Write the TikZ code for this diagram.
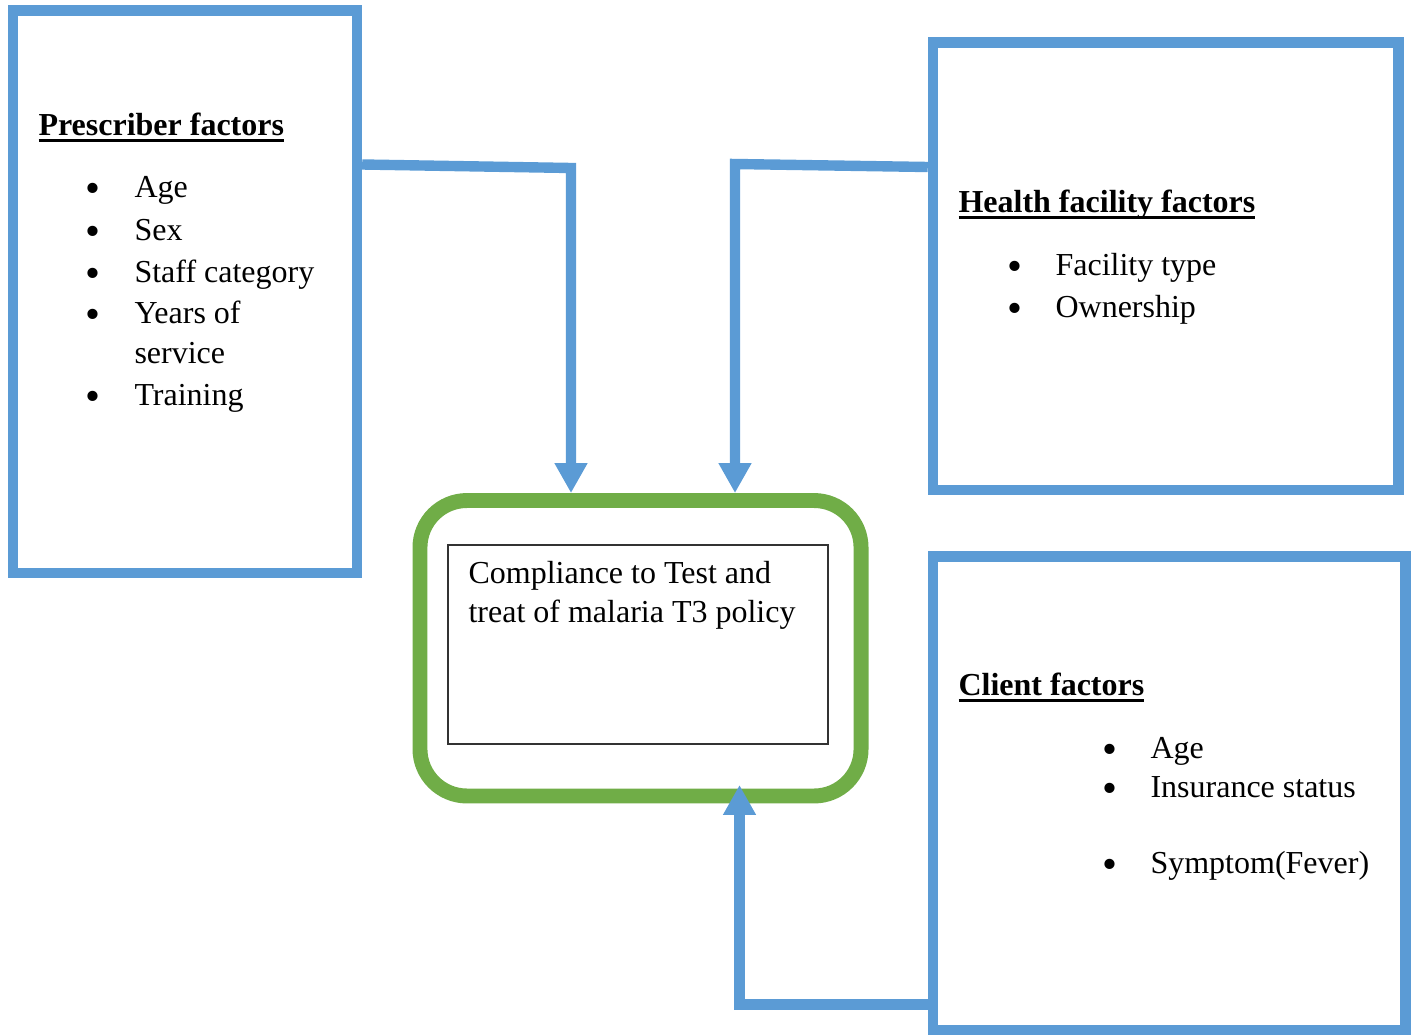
\documentclass[tikz,border=0pt]{standalone}
\usepackage{fontspec}
\setmainfont{Liberation Serif}
\usepackage{tikz}
\usetikzlibrary{arrows.meta}

\definecolor{boxblue}{HTML}{5B9BD5}
\definecolor{boxgreen}{HTML}{70AD47}

\newcommand{\headul}[1]{\setbox0=\hbox{\bfseries #1}\rlap{\copy0}\rule[-2.7pt]{\wd0}{1.3pt}}
\newcommand{\itm}{\llap{\raisebox{-2pt}{\fontsize{16}{16}\selectfont\textbullet}\hspace{12.6pt}}}

\tikzset{
  factorbox/.style={draw=boxblue, line width=3.9pt, rectangle, inner sep=0pt},
  outcomebox/.style={draw=boxgreen, line width=5.6pt, rectangle, rounded corners=17.6pt, inner sep=0pt},
  txt/.style={anchor=base west, inner sep=0pt, font=\fontsize{12}{14}\selectfont},
  link/.style={draw=boxblue, line width=3.9pt, -{Triangle[width=11.6pt,length=11.2pt]}},
}

\begin{document}
\begin{tikzpicture}[x=0.375pt, y=-0.375pt]
  \useasboundingbox (0,0) rectangle (1415,1034);

  % boxes
  \node[factorbox, minimum width=129pt, minimum height=210.9pt] (pres) at (185,291.75) {};
  \node[factorbox, minimum width=174.6pt, minimum height=167.8pt] (hff) at (1165.75,266.25) {};
  \node[factorbox, minimum width=177.2pt, minimum height=177.6pt] (cli) at (1169.25,793.25) {};
  \node[outcomebox, minimum width=165.4pt, minimum height=110.8pt] (comp) at (640.5,648.25) {};
  \node[draw=black!80, line width=0.5pt, minimum width=142.5pt, minimum height=74.6pt, inner sep=0pt] (goal) at (638,644.5) {};

  % prescriber factors
  \node[txt] (presHead) at (38,135) {\headul{Prescriber factors}};
  \node[txt] (presAge) at (134,197) {\itm Age};
  \node[txt] (presSex) at (134,240) {\itm Sex};
  \node[txt] (presStaff) at (134,282) {\itm Staff category};
  \node[txt] (presYears) at (134,323) {\itm Years of};
  \node[txt] (presService) at (134,363) {service};
  \node[txt] (presTrain) at (134,405) {\itm Training};

  % health facility factors
  \node[txt] (hffHead) at (958,212) {\headul{Health facility factors}};
  \node[txt] (hffType) at (1055,275) {\itm Facility type};
  \node[txt] (hffOwner) at (1055,317) {\itm Ownership};

  % client factors
  \node[txt] (cliHead) at (958,695) {\headul{Client factors}};
  \node[txt] (cliAge) at (1150,758) {\itm Age};
  \node[txt] (cliIns) at (1150,797) {\itm Insurance status};
  \node[txt] (cliSym) at (1150,873) {\itm Symptom(Fever)};

  % outcome
  \node[txt] (goalA) at (468,583) {Compliance to Test and};
  \node[txt] (goalB) at (468,622) {treat of malaria T3 policy};

  % connectors
  \coordinate (pbend) at (571,168);
  \coordinate (hbend) at (735,164);
  \coordinate (cbend) at (739.5,1004.5);
  \coordinate (ctip) at (739.5,785);
  \draw[link] (pres.east |- 0,164.5) -- (pbend) -- (pbend |- comp.north);
  \draw[link] (hff.west |- 0,167) -- (hbend) -- (hbend |- comp.north);
  \draw[link] (cli.west |- 0,1004.5) -- (cbend) -- (ctip);
\end{tikzpicture}
\end{document}
